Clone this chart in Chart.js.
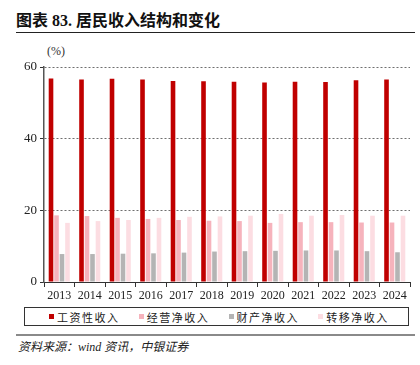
<!DOCTYPE html>
<html>
<head>
<meta charset="utf-8">
<script src="https://cdn.jsdelivr.net/npm/chart.js@4.4.1/dist/chart.umd.min.js"></script>
<style>
  html, body { margin: 0; padding: 0; background: #fff; }
  body { width: 420px; height: 365px; position: relative; overflow: hidden;
         font-family: "Liberation Serif", "Noto Sans CJK SC", serif; color: #111; }
  .title { position: absolute; left: 16px; top: 7px; font-size: 16px; font-weight: bold; white-space: nowrap; }
  .rule1 { position: absolute; left: 16px; width: 399px; top: 32px; height: 0; border-top: 1.5px solid #222; }
  .unit { position: absolute; left: 47px; top: 44px; font-size: 12px; color: #333; }
  #wrap { position: absolute; left: 0; top: 40px; width: 420px; height: 264px; }
  .legend { position: absolute; left: 24px; top: 307px; width: 385px; height: 19px;
            border: 1px solid #333; display: flex; align-items: center; box-sizing: border-box;
            padding-left: 24px; font-size: 11px; letter-spacing: 1.5px; color: #222; }
  .legend .item { width: 91.5px; display: flex; align-items: center; white-space: nowrap; }
  .legend .box { width: 5px; height: 5px; margin-right: 3px; }
  .rule2 { position: absolute; left: 16px; width: 399px; top: 334px; height: 0; border-top: 2px solid #8a8a8a; }
  .source { position: absolute; left: 18px; top: 337px; font-size: 12px; font-style: italic; color: #222; }
</style>
</head>
<body>
<div class="title">图表 83. 居民收入结构和变化</div>
<div class="rule1"></div>
<div class="unit">(%)</div>
<div id="wrap"><canvas id="chart"></canvas></div>
<div class="legend" id="legend"></div>
<div class="rule2"></div>
<div class="source">资料来源：wind 资讯，中银证券</div>
<script>
const years = ["2013","2014","2015","2016","2017","2018","2019","2020","2021","2022","2023","2024"];
const seriesNames = ["工资性收入", "经营净收入", "财产净收入", "转移净收入"];
const wages    = [56.8, 56.5, 56.7, 56.5, 56.1, 56.0, 55.9, 55.7, 55.9, 55.8, 56.3, 56.5];
const business = [18.6, 18.4, 17.9, 17.6, 17.3, 17.1, 17.0, 16.5, 16.7, 16.7, 16.6, 16.6];
const property = [7.8, 7.8, 7.9, 8.0, 8.2, 8.5, 8.6, 8.7, 8.8, 8.8, 8.6, 8.3];
const transfer = [16.5, 17.0, 17.3, 17.9, 18.2, 18.3, 18.5, 19.0, 18.5, 18.7, 18.5, 18.5];
const yTicks = [0, 20, 40, 60];

const colors = ["#C00000", "#F6B3BC", "#B4B4B4", "#FCDDE2"];
const values = [wages, business, property, transfer];

Chart.defaults.font.family = "'Liberation Serif', serif";
Chart.defaults.color = "#222";

new Chart(document.getElementById("chart").getContext("2d"), {
  type: "bar",
  data: {
    labels: years,
    datasets: seriesNames.map((name, i) => ({
      label: name,
      data: values[i],
      backgroundColor: colors[i],
      borderWidth: 0,
      categoryPercentage: 0.72,
      barPercentage: 0.84,
    })),
  },
  options: {
    responsive: true,
    maintainAspectRatio: false,
    animation: false,
    layout: { padding: { top: 27, right: 10, left: 0, bottom: 0 } },
    plugins: { legend: { display: false }, tooltip: { enabled: false } },
    scales: {
      x: {
        grid: { display: true, drawOnChartArea: false, drawTicks: true, tickLength: 5, color: "#333", offset: true },
        border: { color: "#333", width: 1 },
        ticks: { font: { size: 12 }, padding: 2, maxRotation: 0, color: "#222" },
        afterFit: (scale) => { scale.height = 22; },
      },
      y: {
        min: 0, max: 60,
        afterBuildTicks: (scale) => { scale.ticks = yTicks.map((v) => ({ value: v })); },
        grid: {
          color: (c) => (c.tick && c.tick.value === 0 ? "rgba(0,0,0,0)" : "#6f6f6f"),
          tickColor: "#333",
          tickLength: 4,
          lineWidth: 1,
        },
        border: { color: "#555", width: 1.5, dash: [2, 2] },
        ticks: { font: { size: 13 }, padding: 3, color: "#222" },
        afterFit: (scale) => { scale.width = 44; },
      },
    },
  },
});

// legend built from the series names
const legend = document.getElementById("legend");
seriesNames.forEach((name, i) => {
  const item = document.createElement("div");
  item.className = "item";
  item.innerHTML = '<span class="box" style="background:' + colors[i] + '"></span><span>' + name + "</span>";
  legend.appendChild(item);
});
</script>
</body>
</html>
